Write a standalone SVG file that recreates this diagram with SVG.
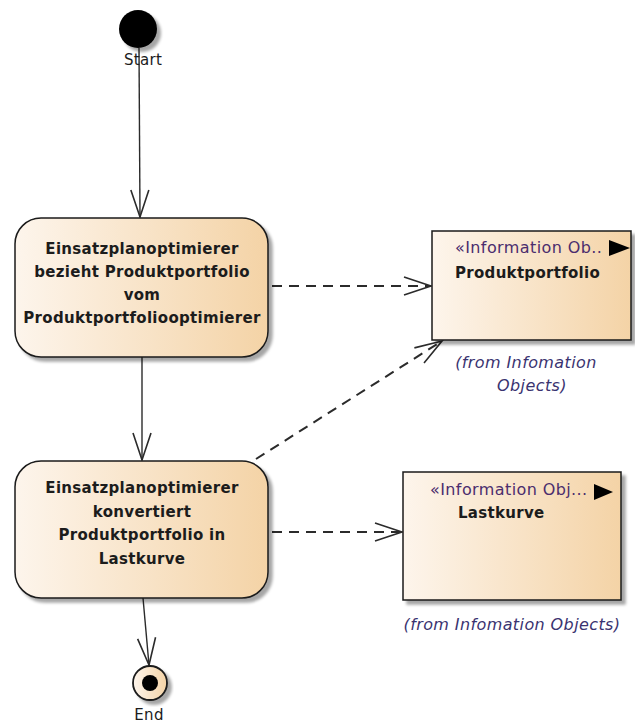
<svg xmlns="http://www.w3.org/2000/svg" width="635" height="728" viewBox="0 0 635 728">
  <defs>
    <linearGradient id="fillTan" x1="0" y1="0" x2="1" y2="0">
      <stop offset="0" stop-color="#fdf5ec"/>
      <stop offset="1" stop-color="#f4d3a6"/>
    </linearGradient>
    <filter id="shadow" x="-10%" y="-10%" width="130%" height="130%">
      <feGaussianBlur in="SourceAlpha" stdDeviation="1.5"/>
      <feOffset dx="4" dy="4" result="b"/>
      <feComponentTransfer><feFuncA type="linear" slope="0.35"/></feComponentTransfer>
      <feMerge><feMergeNode/><feMergeNode in="SourceGraphic"/></feMerge>
    </filter>
    <marker id="openArrow" markerUnits="userSpaceOnUse" markerWidth="40" markerHeight="30" viewBox="-30 -15 40 30" refX="0" refY="0" orient="auto">
      <path d="M-27,-9 L0,0 L-27,9" fill="none" stroke="#2b2b2b" stroke-width="1.6"/>
    </marker>
    <style>
      .edge { fill: none; stroke: #2b2b2b; stroke-width: 1.4; marker-end: url(#openArrow); }
      .dep { fill: none; stroke: #2b2b2b; stroke-width: 2; stroke-dasharray: 10 7; marker-end: url(#openArrow); }
      .box { fill: url(#fillTan); stroke: #1a1a1a; stroke-width: 1.5; }
      .act { font-family: "DejaVu Sans", sans-serif; font-weight: bold; font-size: 15px; letter-spacing: 0.3px; fill: #1c1c1c; text-anchor: middle; }
      .stereo { font-family: "DejaVu Sans", sans-serif; font-size: 16px; letter-spacing: 0.4px; fill: #4b2d6e; }
      .name { font-family: "DejaVu Sans", sans-serif; font-weight: bold; font-size: 15px; letter-spacing: 0.3px; fill: #1c1c1c; }
      .from { font-family: "DejaVu Sans", sans-serif; font-style: italic; font-size: 16px; letter-spacing: 0.4px; fill: #3a3370; text-anchor: middle; }
      .lbl { font-family: "DejaVu Sans", sans-serif; font-size: 15px; letter-spacing: 0.3px; fill: #1c1c1c; text-anchor: middle; }
    </style>
  </defs>

  <rect width="635" height="728" fill="#ffffff"/>

  <!-- connectors -->
  <g id="connectors">
    <line class="edge" x1="139" y1="48" x2="140" y2="217"/>
    <line class="edge" x1="142" y1="357" x2="142" y2="460"/>
    <line class="edge" x1="143" y1="598" x2="149" y2="665"/>
    <line class="dep" x1="272" y1="286" x2="431" y2="286"/>
    <line class="dep" x1="256" y1="459" x2="442" y2="341"/>
    <line class="dep" x1="272" y1="532" x2="402" y2="532"/>
  </g>

  <!-- initial node -->
  <g id="start">
    <circle cx="138" cy="29" r="19" fill="#000000" filter="url(#shadow)"/>
    <text class="lbl" x="143" y="65">Start</text>
  </g>

  <!-- action: obtain product portfolio -->
  <g id="action-bezieht">
    <rect class="box" x="15" y="218" width="253" height="139" rx="26" ry="26" filter="url(#shadow)"/>
    <text class="act" x="142" y="254">Einsatzplanoptimierer</text>
    <text class="act" x="142" y="277">bezieht Produktportfolio</text>
    <text class="act" x="142" y="300">vom</text>
    <text class="act" x="142" y="323">Produktportfoliooptimierer</text>
  </g>

  <!-- action: convert portfolio -->
  <g id="action-konvertiert">
    <rect class="box" x="15" y="461" width="253" height="137" rx="26" ry="26" filter="url(#shadow)"/>
    <text class="act" x="142" y="493">Einsatzplanoptimierer</text>
    <text class="act" x="142" y="517">konvertiert</text>
    <text class="act" x="142" y="540">Produktportfolio in</text>
    <text class="act" x="142" y="564">Lastkurve</text>
  </g>

  <!-- information object: Produktportfolio -->
  <g id="info-produktportfolio">
    <rect class="box" x="432" y="231" width="199" height="109" filter="url(#shadow)"/>
    <text class="stereo" x="455" y="253">«Information Ob..</text>
    <polygon points="609,240 630,248 609,256" fill="#000000"/>
    <text class="name" x="455" y="278">Produktportfolio</text>
    <text class="from" x="526" y="368">(from Infomation</text>
    <text class="from" x="532" y="391">Objects)</text>
  </g>

  <!-- information object: Lastkurve -->
  <g id="info-lastkurve">
    <rect class="box" x="403" y="472" width="218" height="128" filter="url(#shadow)"/>
    <text class="stereo" x="430" y="495">«Information Obj...</text>
    <polygon points="594,484 613,492 594,500" fill="#000000"/>
    <text class="name" x="458" y="518">Lastkurve</text>
    <text class="from" x="512" y="630">(from Infomation Objects)</text>
  </g>

  <!-- final node -->
  <g id="end">
    <circle cx="150" cy="683" r="17" fill="url(#fillTan)" stroke="#1a1a1a" stroke-width="1.8" filter="url(#shadow)"/>
    <circle cx="150" cy="683" r="8" fill="#000000"/>
    <text class="lbl" x="149" y="720">End</text>
  </g>
</svg>
